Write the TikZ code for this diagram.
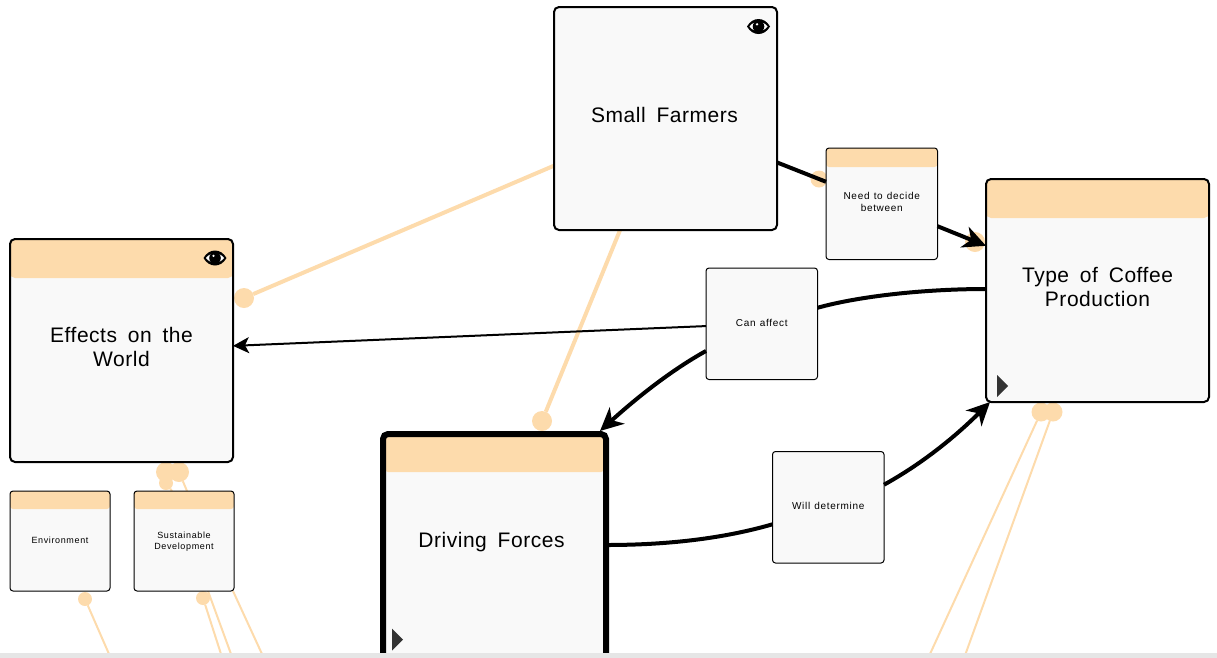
\documentclass[tikz,border=0pt]{standalone}
\usepackage{fontspec}
\usepackage{tikz}
\usetikzlibrary{arrows.meta,positioning,backgrounds}
\setmainfont{Liberation Sans}
\newfontfamily\bigfont{Liberation Sans}[LetterSpace=2.5,WordSpace=1.7]
\newfontfamily\smallfont{Liberation Sans}[LetterSpace=7,WordSpace=1.2]
\definecolor{linkorange}{RGB}{253, 219, 172}
\definecolor{boxfill}{RGB}{249, 249, 249}
\definecolor{stripgray}{RGB}{230, 230, 230}
\definecolor{markgray}{RGB}{51, 51, 51}

\begin{document}
\begin{tikzpicture}[x=1pt, y=-1pt, outer sep=0pt,
    concept/.style={rectangle, draw=black, fill=boxfill, line width=2pt, rounded corners=5pt, minimum width=223pt, minimum height=223pt, inner sep=0pt, align=center, text depth=8pt, font=\bigfont\fontsize{21}{24}\selectfont},
    note/.style={rectangle, draw=black, fill=boxfill, line width=1pt, rounded corners=3pt, minimum width=111.5pt, minimum height=111.5pt, inner sep=0pt, align=center, text depth=2pt, font=\smallfont\fontsize{10}{12}\selectfont},
    leaf/.style={note, minimum width=100pt, minimum height=100pt, font=\smallfont\fontsize{9}{11}\selectfont},
    headed/.style={path picture={\fill[linkorange] (path picture bounding box.north west) rectangle ([yshift=-#1]path picture bounding box.north east);}},
    dot/.style={circle, fill=linkorange, inner sep=0pt, minimum size=#1},
    dot/.default=20pt,
    link/.style={draw=linkorange, line width=4pt},
    thinlink/.style={draw=linkorange, line width=2pt},
    flow/.style={draw=black, line width=4pt},
    bigtip/.style={-{Stealth[length=23pt, width=22pt, inset=7pt]}},
    smalltip/.style={-{Stealth[length=16pt, width=16pt, inset=4pt]}},
    eye/.pic={
        \fill[black] (-11.5,0) .. controls (-6,-10) and (6,-10) .. (11.5,0) .. controls (6,10) and (-6,10) .. (-11.5,0) -- cycle;
        \fill[white] (-9,0) .. controls (-5,-6) and (5,-6) .. (9,0) .. controls (5,6) and (-5,6) .. (-9,0) -- cycle;
        \fill[black] (0,0) circle (5.8pt);
        \fill[white] (-1.5,-2.2) circle (1.3pt);
    },
    playmark/.pic={
        \fill[markgray] (-5.5,-11) -- (5.5,0) -- (-5.5,11) -- cycle;
    }
]

    \useasboundingbox (0,0) rectangle (1217,657);

    \node[concept] (farmers) at (665.5,118.5) {Small Farmers\hspace{2pt}};
    \node[concept, headed=39pt, below right=-51pt and 209pt of farmers] (type) {Type of Coffee\hspace{3pt}\\Production\hspace{3pt}};
    \node[concept, headed=39pt, below left=9pt and 321pt of farmers] (effects) {Effects on the\hspace{3pt}\\World\hspace{3pt}};
    \node[concept, headed=38pt, line width=6pt, minimum height=240pt, text depth=28pt, below left=204pt and -52pt of farmers] (driving) {Driving Forces\hspace{6pt}};

    \node[note, headed=19pt, text depth=4pt, below right=-82pt and 49pt of farmers] (decide) {Need to decide\\between};
    \node[note, below right=38pt and -71pt of farmers] (affect) {Can affect};
    \node[note, below right=72pt and -45pt of affect] (determine) {Will determine};

    \node[leaf, headed=18pt, below right=29pt and 0pt of effects.south west] (environment) {Environment};
    \node[leaf, headed=18pt, text depth=0pt, right=24pt of environment] (sustain) {Sustainable\\Development};

    \pic at ([shift={(-18.5,19.5)}]farmers.north east) {eye};
    \pic at ([shift={(-18,19)}]effects.north east) {eye};
    \pic at ([shift={(16.5,-16)}]type.south west) {playmark};
    \pic at ([shift={(14.5,-34.5)}]driving.south west) {playmark};

    \begin{pgfonlayer}{background}
        \node[dot] (dotworld) at (244,298) {};
        \node[dot] (dotforces) at (542,421) {};
        \node[dot=17pt] (dotdecide) at (819,179) {};
        \node[dot] (dottype) at (975,242) {};
        \node[dot] (dotenvtop) at (166,472) {};
        \node[dot] (dotsustop) at (179,472) {};
        \node[dot=14pt] (dotsmall) at (166,483) {};
        \node[dot=14pt] (dotenv) at (85,599) {};
        \node[dot=14pt] (dotsus) at (203,598) {};
        \node[dot=19pt] (dottypea) at (1041,412) {};
        \node[dot=19pt] (dottypeb) at (1053,412) {};

        \coordinate (endenv) at (109,654);
        \coordinate (endsusa) at (221,654);
        \coordinate (endsusb) at (231,654);
        \coordinate (endsusc) at (262,654);
        \coordinate (endtypea) at (930,654);
        \coordinate (endtypeb) at (965.5,654);

        \draw[link] (farmers) -- (dotworld);
        \draw[link] (farmers) -- (dotforces);
        \draw[thinlink] (dotsustop) -- ([xshift=3pt]sustain.north);
        \draw[thinlink] (dotsmall) -- ([xshift=-12pt]sustain.north);
        \draw[thinlink] (dotenv) -- (endenv);
        \draw[thinlink] (dotsus) -- (endsusa);
        \draw[thinlink] ([xshift=24pt]sustain.south) -- (endsusb);
        \draw[thinlink] ([xshift=49pt]sustain.south) -- (endsusc);
        \draw[thinlink] (dottypea) -- (endtypea);
        \draw[thinlink] (dottypeb) -- (endtypeb);
    \end{pgfonlayer}

    \draw[flow] (farmers) -- (decide);
    \draw[flow, bigtip] (decide) -- (type);
    \draw[flow] ([yshift=1.5pt]type.west) .. controls (925,289) and (860,296) .. (affect.16);
    \draw[flow, line width=2pt, smalltip] (affect) -- (effects);
    \draw[flow, bigtip] (affect.206) .. controls (668,372) and (632,402) .. ([shift={(-6,-3)}]driving.north east);
    \draw[flow] (driving.east |- 0,545) .. controls (670,545) and (725,538) .. (determine.197);
    \draw[flow, bigtip] (determine.22) .. controls (925,462) and (958,434) .. ([xshift=4pt]type.south west);

    \node[fill=stripgray, minimum width=1217pt, minimum height=6pt, inner sep=0pt] (strip) at (608.5,655.5) {};

\end{tikzpicture}
\end{document}
